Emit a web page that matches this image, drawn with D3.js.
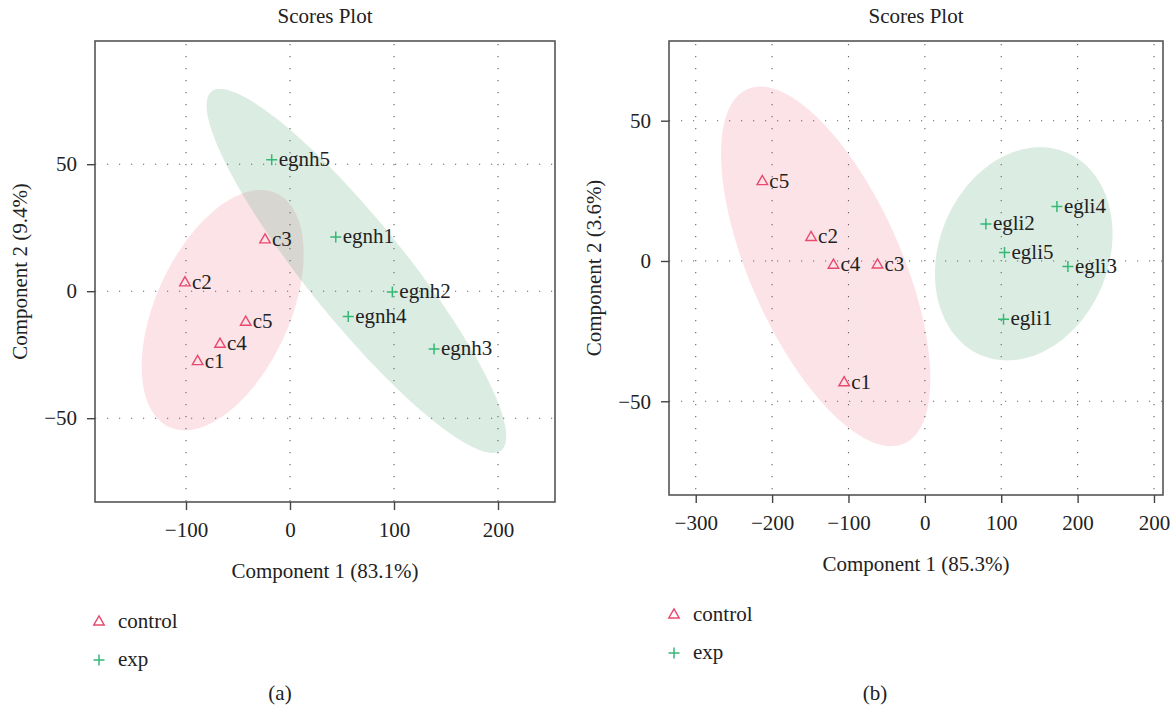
<!DOCTYPE html>
<html>
<head>
<meta charset="utf-8">
<script src="https://cdn.jsdelivr.net/npm/d3@7"></script>
<style>
  body { margin: 0; background: #fff; }
  svg text { font-family: "Liberation Serif", "DejaVu Serif", serif; fill: #222; }
</style>
</head>
<body>
<div id="chart"></div>
<script>
// Panel (a) scores
const namesA = ["c1", "c2", "c3", "c4", "c5", "egnh1", "egnh2", "egnh3", "egnh4", "egnh5"];
const groupA = ["control", "control", "control", "control", "control", "exp", "exp", "exp", "exp", "exp"];
const comp1A = [-88.8, -101, -24, -67.3, -42.6, 44, 98.4, 138.5, 56, -17.6];
const comp2A = [-27.7, 3.3, 20.2, -20.9, -12.2, 21.3, -0.3, -22.8, -10, 51.7];

// Panel (b) scores
const namesB = ["c1", "c2", "c3", "c4", "c5", "egli1", "egli2", "egli3", "egli4", "egli5"];
const groupB = ["control", "control", "control", "control", "control", "exp", "exp", "exp", "exp", "exp"];
const comp1B = [-105.7, -149, -62, -119.7, -212.8, 103, 79.9, 187.3, 172.9, 104.3];
const comp2B = [-43.4, 8.4, -1.4, -1.5, 28.3, -20.8, 13.2, -2.0, 19.4, 3.0];

// ticks
const xTicksA = [-100, 0, 100, 200];
const yTicksA = [-50, 0, 50];
const xTicksB = [-300, -200, -100, 0, 100, 200, 300];
const xTickLabelsB = ["\u2212300", "\u2212200", "\u2212100", "0", "100", "200", "200"];
const yTicksB = [-50, 0, 50];

const groups = ["control", "exp"];
const markerColor = {control: "#e8496e", exp: "#36b877"};
const fillColor = {control: "#f07f95", exp: "#5aa97c"};

const width = 1176, height = 712;
const fs = "21px";
const svg = d3.select("#chart").append("svg")
    .attr("width", width)
    .attr("height", height);

const tri = d3.symbol().type(d3.symbolTriangle).size(48);

function panel(opts) {
    const x = d3.scaleLinear().domain(opts.xDomain).range([opts.left, opts.right]);
    const y = d3.scaleLinear().domain(opts.yDomain).range([opts.bottom, opts.top]);
    const g = svg.append("g");

    // ellipses (95% confidence, from group covariance)
    const t = Math.sqrt(-2 * Math.log(0.05));
    groups.forEach(grp => {
        const idx = opts.group.map((d, i) => d === grp ? i : -1).filter(i => i >= 0);
        const xs = idx.map(i => opts.c1[i]), ys = idx.map(i => opts.c2[i]);
        const mx = d3.mean(xs), my = d3.mean(ys), n = xs.length;
        let sxx = 0, syy = 0, sxy = 0;
        for (let k = 0; k < n; k++) {
            sxx += (xs[k] - mx) ** 2;
            syy += (ys[k] - my) ** 2;
            sxy += (xs[k] - mx) * (ys[k] - my);
        }
        sxx /= n - 1; syy /= n - 1; sxy /= n - 1;
        const a = Math.sqrt(sxx), b = sxy / a, c = Math.sqrt(syy - b * b);
        const pts = d3.range(0, 120).map(k => {
            const th = k / 120 * 2 * Math.PI;
            return [mx + t * a * Math.cos(th), my + t * (b * Math.cos(th) + c * Math.sin(th))];
        });
        g.append("path")
            .datum(pts)
            .attr("d", d3.line().x(d => x(d[0])).y(d => y(d[1])).curve(d3.curveCardinalClosed))
            .attr("fill", fillColor[grp])
            .attr("fill-opacity", 0.22)
            .attr("stroke", "none");
    });

    // dotted grid
    g.selectAll(".vgrid").data(opts.xTicks).enter().append("line")
        .attr("x1", d => x(d)).attr("x2", d => x(d))
        .attr("y1", opts.top + 3).attr("y2", opts.bottom)
        .attr("stroke", "#666").attr("stroke-width", 1.1)
        .attr("stroke-dasharray", "1.2,10.8");
    g.selectAll(".hgrid").data(opts.yTicks).enter().append("line")
        .attr("x1", opts.left).attr("x2", opts.right)
        .attr("y1", d => y(d)).attr("y2", d => y(d))
        .attr("stroke", "#666").attr("stroke-width", 1.1)
        .attr("stroke-dasharray", "1.2,10.8");

    // frame
    g.append("rect")
        .attr("x", opts.left).attr("y", opts.top)
        .attr("width", opts.right - opts.left).attr("height", opts.bottom - opts.top)
        .attr("fill", "none").attr("stroke", "#555").attr("stroke-width", 1.6);

    // axes
    const xAxis = d3.axisBottom(x).tickValues(opts.xTicks).tickSize(8).tickPadding(12);
    if (opts.xLabels) xAxis.tickFormat((d, i) => opts.xLabels[i]);
    const gx = g.append("g").attr("transform", `translate(0,${opts.bottom})`).call(xAxis);
    gx.select(".domain").remove();
    gx.selectAll("line").attr("stroke", "#444").attr("stroke-width", 1.4);
    gx.selectAll("text").style("font-size", fs).attr("fill", "#222")
        .attr("font-family", "Liberation Serif");

    const gy = g.append("g").attr("transform", `translate(${opts.left},0)`)
        .call(d3.axisLeft(y).tickValues(opts.yTicks).tickSize(8).tickPadding(10));
    gy.select(".domain").remove();
    gy.selectAll("line").attr("stroke", "#444").attr("stroke-width", 1.4);
    gy.selectAll("text").style("font-size", fs).attr("fill", "#222")
        .attr("font-family", "Liberation Serif");

    // points
    const data = opts.names.map((nm, i) => ({name: nm, group: opts.group[i], x: opts.c1[i], y: opts.c2[i]}));
    const pts = g.selectAll(".pt").data(data).enter().append("g")
        .attr("transform", d => `translate(${x(d.x)},${y(d.y)})`);
    pts.filter(d => d.group === "control").append("path")
        .attr("d", tri)
        .attr("fill", "none")
        .attr("stroke", markerColor.control)
        .attr("stroke-width", 1.4);
    pts.filter(d => d.group === "exp").append("path")
        .attr("d", "M-5.5,0H5.5M0,-5.5V5.5")
        .attr("stroke", markerColor.exp)
        .attr("stroke-width", 1.5);
    pts.append("text")
        .attr("x", 7).attr("y", 6)
        .style("font-size", fs)
        .text(d => d.name);

    const cx = (opts.left + opts.right) / 2;
    g.append("text").attr("x", cx).attr("y", 23)
        .attr("text-anchor", "middle").style("font-size", fs).text("Scores Plot");
    g.append("text").attr("x", cx).attr("y", opts.bottom + 76)
        .attr("text-anchor", "middle").style("font-size", fs).text(opts.xTitle);
    g.append("text")
        .attr("transform", `translate(${opts.yTitleX},${(opts.top + opts.bottom) / 2}) rotate(-90)`)
        .attr("text-anchor", "middle").style("font-size", fs).text(opts.yTitle);

    // legend
    const lg = g.append("g").attr("transform", `translate(${opts.legX},${opts.legY})`);
    lg.append("path").attr("d", tri)
        .attr("fill", "none").attr("stroke", markerColor.control).attr("stroke-width", 1.4);
    lg.append("text").attr("x", 19).attr("y", 6).style("font-size", fs).text(groups[0]);
    lg.append("path").attr("d", "M-5.5,38H5.5M0,32.5V43.5")
        .attr("stroke", markerColor.exp).attr("stroke-width", 1.5);
    lg.append("text").attr("x", 19).attr("y", 44).style("font-size", fs).text(groups[1]);

    g.append("text").attr("x", opts.capX).attr("y", 700)
        .attr("text-anchor", "middle").style("font-size", fs).text(opts.caption);
}

panel({
    names: namesA, group: groupA, c1: comp1A, c2: comp2A,
    xDomain: [-187.5, 254.8], yDomain: [-83, 98.5],
    left: 95, right: 555, top: 41, bottom: 502,
    xTicks: xTicksA, yTicks: yTicksA,
    xTitle: "Component 1 (83.1%)", yTitle: "Component 2 (9.4%)", yTitleX: 27,
    legX: 99, legY: 622, capX: 280, caption: "(a)"
});

panel({
    names: namesB, group: groupB, c1: comp1B, c2: comp2B,
    xDomain: [-335, 311.8], yDomain: [-83.4, 78.4],
    left: 669, right: 1163, top: 41, bottom: 495,
    xTicks: xTicksB, xLabels: xTickLabelsB, yTicks: yTicksB,
    xTitle: "Component 1 (85.3%)", yTitle: "Component 2 (3.6%)", yTitleX: 601,
    legX: 674, legY: 615, capX: 875, caption: "(b)"
});
</script>
</body>
</html>
